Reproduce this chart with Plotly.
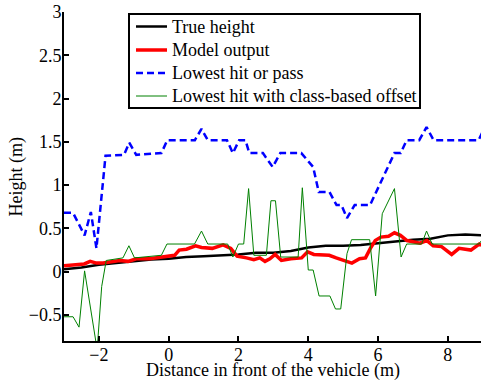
import plotly.graph_objects as go

# True height (black)
true_x = [-3, -2.5, -2, -1.5, -1, -0.5, 0, 0.5, 1, 1.5, 2, 2.5, 3, 3.5, 4, 4.5, 5, 5.5, 6, 6.5, 7, 7.5, 8, 8.5, 9]
true_y = [0.03, 0.05, 0.08, 0.10, 0.12, 0.14, 0.15, 0.17, 0.18, 0.19, 0.20, 0.22, 0.22, 0.24, 0.28, 0.30, 0.30, 0.31, 0.33, 0.35, 0.37, 0.38, 0.42, 0.43, 0.42]

# Model output (red)
model_x = [-3.0, -2.64, -2.42, -2.25, -2.07, -1.88, -1.6, -1.4, -1.16, -0.93, -0.55, -0.26, 0.03, 0.17, 0.3,
           0.51, 0.77, 0.94, 1.25, 1.56, 1.78, 1.96, 2.23, 2.44, 2.61, 2.76, 2.9, 3.05, 3.23, 3.5, 3.81,
           3.98, 4.16, 4.6, 4.8, 5.05, 5.25, 5.47, 5.64, 5.78, 5.92, 6.08, 6.3, 6.47, 6.64, 6.83, 7.2,
           7.4, 7.58, 7.82, 8.11, 8.32, 8.66, 8.9, 9.0]
model_y = [0.07, 0.08, 0.09, 0.12, 0.10, 0.10, 0.12, 0.13, 0.12, 0.15, 0.15, 0.17, 0.19, 0.19, 0.25,
           0.26, 0.30, 0.28, 0.27, 0.31, 0.27, 0.18, 0.16, 0.14, 0.16, 0.12, 0.15, 0.20, 0.13, 0.15, 0.16,
           0.23, 0.20, 0.19, 0.16, 0.13, 0.10, 0.15, 0.16, 0.27, 0.36, 0.40, 0.41, 0.45, 0.42, 0.36, 0.33,
           0.36, 0.30, 0.29, 0.20, 0.27, 0.25, 0.32, 0.30]

# Lowest hit or pass (blue dashed)
pass_x = [-3.0, -2.74, -2.41, -2.23, -2.07, -1.81, -1.28, -1.13, -0.93, -0.21, -0.04, 0.75, 0.94, 1.12,
          1.67, 1.84, 2.02, 2.2, 2.31, 2.7, 2.98, 3.2, 3.8, 4.14, 4.3, 4.61, 4.81, 4.95, 5.11, 5.33,
          5.77, 6.47, 6.65, 6.82, 7.18, 7.39, 7.59, 8.88, 9.0]
pass_y = [0.68, 0.68, 0.42, 0.69, 0.27, 1.34, 1.35, 1.49, 1.35, 1.37, 1.52, 1.52, 1.65, 1.52,
          1.52, 1.37, 1.52, 1.52, 1.37, 1.37, 1.21, 1.37, 1.37, 1.21, 0.92, 0.92, 0.77, 0.77, 0.62, 0.77,
          0.77, 1.37, 1.37, 1.52, 1.52, 1.67, 1.52, 1.52, 1.62]

# Lowest hit with class-based offset (green)
offset_x = [-3.0, -2.74, -2.57, -2.41, -2.05, -1.92, -1.79, -1.31, -1.14, -0.98, -0.21, -0.05, 0.74, 0.94,
            1.12, 1.69, 1.84, 2.0, 2.15, 2.29, 2.44, 2.8, 2.93, 3.06, 3.21, 3.71, 3.83, 4.0, 4.14, 4.31,
            4.62, 4.78, 4.93, 5.11, 5.24, 5.76, 5.93, 6.12, 6.47, 6.66, 6.82, 7.25, 7.39, 7.55, 8.89, 9.0]
offset_y = [-0.52, -0.52, -0.64, 0.01, -0.9, -0.17, 0.13, 0.16, 0.30, 0.16, 0.19, 0.32, 0.32, 0.47,
            0.32, 0.32, 0.17, 0.32, 0.32, 0.96, 0.19, 0.19, 0.82, 0.82, 0.17, 0.17, 0.97, 0.02, 0.02, -0.28,
            -0.28, -0.43, -0.43, 0.21, 0.37, 0.37, -0.28, 0.67, 0.96, 0.17, 0.32, 0.32, 0.47, 0.32, 0.32, 0.38]

series_names = ["True height", "Model output", "Lowest hit or pass", "Lowest hit with class-based offset"]
x_ticks = [-2, 0, 2, 4, 6, 8]
x_tick_text = ["\u22122", "0", "2", "4", "6", "8"]
y_ticks = [-0.5, 0, 0.5, 1, 1.5, 2, 2.5, 3]
y_tick_text = ["\u22120.5", "0", "0.5", "1", "1.5", "2", "2.5", "3"]
x_title = "Distance in front of the vehicle (m)"
y_title = "Height (m)"

FONT = "Liberation Serif"
W, H = 481, 384
ML, MR, MT, MB = 64, 0, 12, 43
PW, PH = W - ML - MR, H - MT - MB


def px(xp):
    return (xp - ML) / PW


def py(yp):
    return (H - MB - yp) / PH


styles = [
    dict(color="#000000", width=2.5),
    dict(color="#ff0000", width=3.5),
    dict(color="#0000ff", width=2.5, dash="7px,4px"),
    dict(color="#008000", width=1),
]
data = [(true_x, true_y), (model_x, model_y), (pass_x, pass_y), (offset_x, offset_y)]

fig = go.Figure()
for (xs, ys), name, st in zip(data, series_names, styles):
    fig.add_trace(go.Scatter(x=xs, y=ys, mode="lines", name=name, line=st, showlegend=False))

# Legend drawn as a boxed key
shapes = [dict(type="rect", xref="paper", yref="paper", x0=px(129), x1=px(420), y0=py(108), y1=py(14),
               line=dict(color="black", width=2), fillcolor="white", layer="above")]
annotations = []
row_y = [26.5, 50, 73, 96]
for ry, name, st in zip(row_y, series_names, styles):
    shapes.append(dict(type="line", xref="paper", yref="paper", x0=px(136), x1=px(167), y0=py(ry), y1=py(ry),
                       line=dict(color=st["color"], width=st["width"], dash=st.get("dash", "solid")),
                       layer="above"))
    annotations.append(dict(text=name, xref="paper", yref="paper", x=px(170), y=py(ry),
                            xanchor="left", yanchor="middle", showarrow=False,
                            font=dict(family=FONT, size=18, color="black")))

annotations.append(dict(text=x_title, xref="paper", yref="paper", x=px(273), y=py(370),
                        xanchor="center", yanchor="middle", showarrow=False,
                        font=dict(family=FONT, size=18, color="black")))
annotations.append(dict(text=y_title, xref="paper", yref="paper", x=px(15.5), y=py(177),
                        xanchor="center", yanchor="middle", showarrow=False, textangle=-90,
                        font=dict(family=FONT, size=18, color="black")))

fig.update_layout(
    width=W, height=H,
    margin=dict(l=ML, r=MR, t=MT, b=MB),
    paper_bgcolor="white", plot_bgcolor="white",
    font=dict(family=FONT, size=18, color="black"),
    showlegend=False,
    shapes=shapes,
    annotations=annotations,
    xaxis=dict(range=[-3, 8.95], tickvals=x_ticks, ticktext=x_tick_text, automargin=False,
               showgrid=False, zeroline=False, showline=True, linecolor="black", linewidth=2,
               ticks="inside", ticklen=5, tickwidth=1.5, tickcolor="black", ticklabelstandoff=-4),
    yaxis=dict(range=[-0.8, 3], tickvals=y_ticks, ticktext=y_tick_text, automargin=False,
               showgrid=False, zeroline=False, showline=True, linecolor="black", linewidth=2,
               ticks="inside", ticklen=5, tickwidth=1.5, tickcolor="black", ticklabelstandoff=-3),
)

fig.write_html("out.html", config={"displayModeBar": False},
               post_script="document.body.style.margin='0';")
